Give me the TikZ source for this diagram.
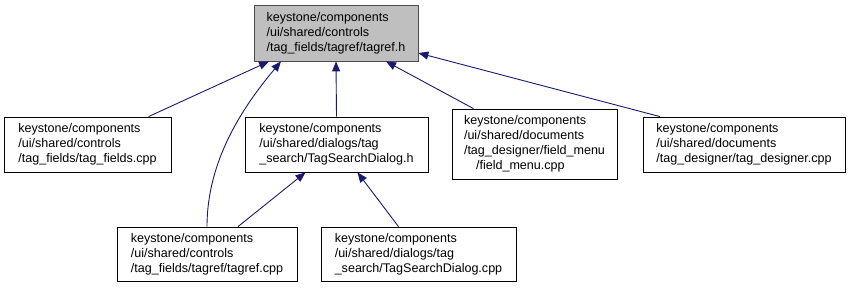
\documentclass[tikz,border=0pt]{standalone}
\usepackage{fontspec}
\setmainfont{Liberation Sans}
\usetikzlibrary{arrows.meta}
\definecolor{azulnoche}{RGB}{25,25,112}

\begin{document}
\begin{tikzpicture}[x=1bp,y=-1bp,line width=0.8bp,>={Triangle[length=10bp,width=8bp]},
  caja/.style={draw=black,fill=white,align=left,inner sep=0pt,font=\fontsize{12.6}{15}\selectfont},
  flecha/.style={<-,azulnoche,line width=0.9bp}]
  \useasboundingbox (0,0) rectangle (851,289);
  % archivo raiz
  \node[caja,fill=black!25,draw=black!70,minimum width=164bp,minimum height=56bp] (tagrefh) at (336,33)
    {keystone/components\\/ui/shared/controls\\/tag\_fields/tagref/tagref.h};
  % segundo nivel
  \node[caja,minimum width=167bp,minimum height=55bp] (tagfields) at (87.5,144.5)
    {keystone/components\\/ui/shared/controls\\/tag\_fields/tag\_fields.cpp};
  \node[caja,minimum width=183bp,minimum height=55bp] (dialogh) at (336.5,144.5)
    {keystone/components\\/ui/shared/dialogs/tag\\\_search/TagSearchDialog.h};
  \node[caja,minimum width=165bp,minimum height=70bp] (fieldmenu) at (534.5,144)
    {keystone/components\\/ui/shared/documents\\/tag\_designer/field\_menu\\\hspace*{12bp}/field\_menu.cpp};
  \node[caja,minimum width=202bp,minimum height=55bp] (designer) at (744,144.5)
    {keystone/components\\/ui/shared/documents\\/tag\_designer/tag\_designer.cpp};
  % tercer nivel
  \node[caja,minimum width=180bp,minimum height=54bp] (tagrefcpp) at (207,254)
    {keystone/components\\/ui/shared/controls\\/tag\_fields/tagref/tagref.cpp};
  \node[caja,minimum width=195bp,minimum height=54bp] (dialogcpp) at (418.5,254)
    {keystone/components\\/ui/shared/dialogs/tag\\\_search/TagSearchDialog.cpp};
  % dependencias
  \draw[flecha] ([xshift=-67bp]tagrefh.south) -- ([xshift=61bp]tagfields.north);
  \draw[flecha] ([xshift=-55bp]tagrefh.south) to[out=-130,in=90,looseness=0.9] (tagrefcpp.north);
  \draw[flecha] (tagrefh.south) -- (dialogh.north);
  \draw[flecha] ([xshift=50bp]tagrefh.south) -- ([xshift=-61bp]fieldmenu.north);
  \draw[flecha] ([yshift=-20bp]tagrefh.east) -- ([xshift=-84bp]designer.north);
  \draw[flecha] ([xshift=-31bp]dialogh.south) -- ([xshift=31bp]tagrefcpp.north);
  \draw[flecha] ([xshift=21bp]dialogh.south) -- ([xshift=-20bp]dialogcpp.north);
\end{tikzpicture}
\end{document}
